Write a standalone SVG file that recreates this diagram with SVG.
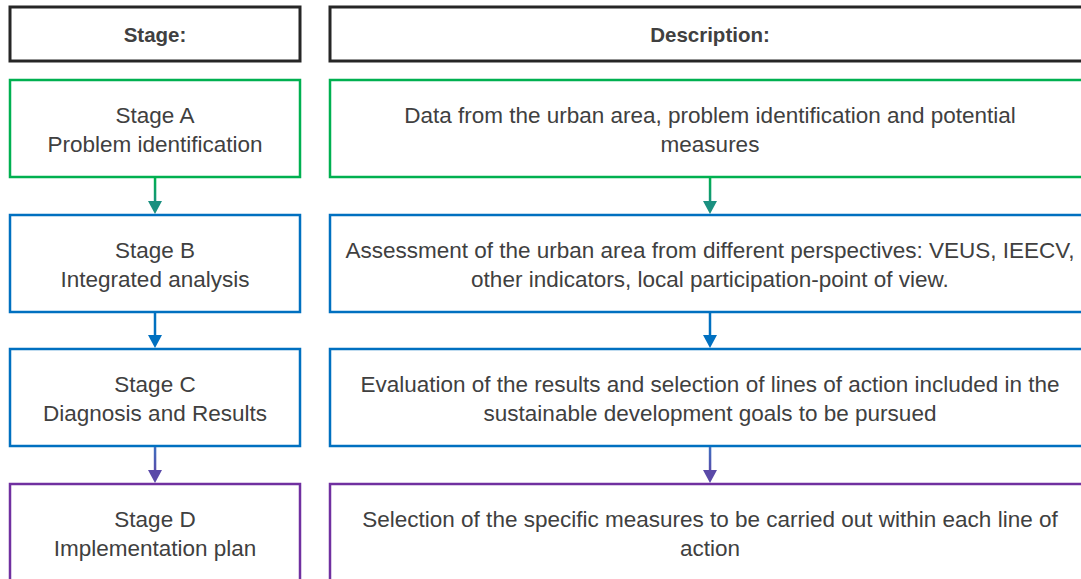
<svg xmlns="http://www.w3.org/2000/svg" width="1081" height="579" viewBox="0 0 1081 579">
  <defs>
    <style>
      .box { fill: #ffffff; stroke-width: 2.5; }
      .hdr { stroke: #262626; stroke-width: 3; fill: #ffffff; }
      .green { stroke: #00B050; }
      .blue { stroke: #0070C0; }
      .purple { stroke: #7030A0; }
      text { font-family: "Liberation Sans", Arial, sans-serif; font-size: 22.5px; fill: #404040; text-anchor: middle; }
      .bold { font-weight: bold; font-size: 20.5px; }
      .link { stroke-width: 2.5; fill: none; }
    </style>
    <linearGradient id="gAB" x1="0" y1="0" x2="0" y2="1">
      <stop offset="0" stop-color="#00B050"/>
      <stop offset="1" stop-color="#1a9080"/>
    </linearGradient>
    <linearGradient id="gCD" x1="0" y1="0" x2="0" y2="1">
      <stop offset="0" stop-color="#3f6fc0"/>
      <stop offset="1" stop-color="#5a4aa8"/>
    </linearGradient>
  </defs>

  <!-- column headers -->
  <g id="header-stage">
    <rect class="hdr" x="10" y="7" width="290" height="54"/>
    <text class="bold" x="155" y="42">Stage:</text>
  </g>
  <g id="header-description">
    <rect class="hdr" x="330" y="7" width="760" height="54"/>
    <text class="bold" x="710" y="42">Description:</text>
  </g>

  <!-- stage nodes -->
  <g id="stage-a">
    <rect class="box green" x="10" y="80" width="290" height="97"/>
    <text x="155" y="123">Stage A</text>
    <text x="155" y="152">Problem identification</text>
  </g>
  <g id="desc-a">
    <rect class="box green" x="330" y="80" width="760" height="97"/>
    <text x="710" y="123">Data from the urban area, problem identification and potential</text>
    <text x="710" y="152">measures</text>
  </g>

  <g id="stage-b">
    <rect class="box blue" x="10" y="215" width="290" height="97"/>
    <text x="155" y="258">Stage B</text>
    <text x="155" y="287">Integrated analysis</text>
  </g>
  <g id="desc-b">
    <rect class="box blue" x="330" y="215" width="760" height="97"/>
    <text x="710" y="258">Assessment of the urban area from different perspectives: VEUS, IEECV,</text>
    <text x="710" y="287">other indicators, local participation-point of view.</text>
  </g>

  <g id="stage-c">
    <rect class="box blue" x="10" y="349" width="290" height="97"/>
    <text x="155" y="392">Stage C</text>
    <text x="155" y="421">Diagnosis and Results</text>
  </g>
  <g id="desc-c">
    <rect class="box blue" x="330" y="349" width="760" height="97"/>
    <text x="710" y="392">Evaluation of the results and selection of lines of action included in the</text>
    <text x="710" y="421">sustainable development goals to be pursued</text>
  </g>

  <g id="stage-d">
    <rect class="box purple" x="10" y="484" width="290" height="110"/>
    <text x="155" y="527">Stage D</text>
    <text x="155" y="556">Implementation plan</text>
  </g>
  <g id="desc-d">
    <rect class="box purple" x="330" y="484" width="760" height="110"/>
    <text x="710" y="527">Selection of the specific measures to be carried out within each line of</text>
    <text x="710" y="556">action</text>
  </g>

  <!-- connectors -->
  <g id="connectors">
    <rect x="153.8" y="178" width="2.5" height="26" fill="url(#gAB)"/>
    <polygon points="148,201 162,201 155,214" fill="#1a9080"/>
    <rect x="708.8" y="178" width="2.5" height="26" fill="url(#gAB)"/>
    <polygon points="703,201 717,201 710,214" fill="#1a9080"/>

    <line class="link" x1="155" y1="313" x2="155" y2="338" stroke="#0070C0"/>
    <polygon points="148,335 162,335 155,348" fill="#0070C0"/>
    <line class="link" x1="710" y1="313" x2="710" y2="338" stroke="#0070C0"/>
    <polygon points="703,335 717,335 710,348" fill="#0070C0"/>

    <rect x="153.8" y="447" width="2.5" height="26" fill="url(#gCD)"/>
    <polygon points="148,470 162,470 155,483" fill="#5a4aa8"/>
    <rect x="708.8" y="447" width="2.5" height="26" fill="url(#gCD)"/>
    <polygon points="703,470 717,470 710,483" fill="#5a4aa8"/>
  </g>
</svg>
